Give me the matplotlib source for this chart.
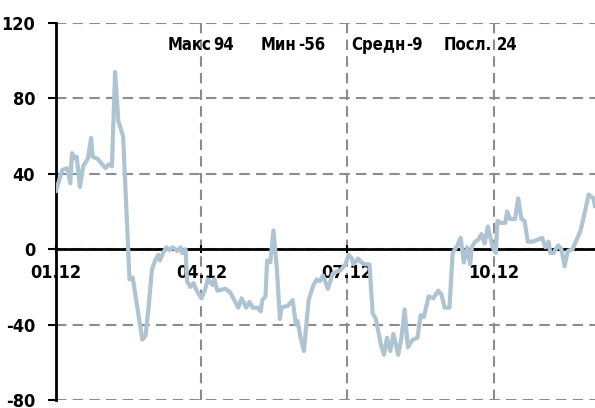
import pandas as pd
import matplotlib
matplotlib.use("Agg")
import matplotlib.pyplot as plt
import matplotlib.dates as mdates

# days since 01.01.2012 and index value
days = [0, 4, 7, 9, 10, 12, 13, 15, 17, 20, 22, 23, 26, 31, 33, 35, 37, 39, 42,
        46, 48, 54, 56, 58, 60, 62, 64, 65, 67, 69, 71, 73, 76, 78, 79, 81, 82,
        84, 86, 88, 91, 93, 95, 98, 99, 101, 106, 109, 114, 116, 119, 121, 123,
        126, 128, 129, 131, 132, 134, 136, 138, 140, 141, 145, 148, 150, 151,
        153, 155, 158, 161, 163, 165, 167, 170, 173, 178, 181, 183, 185, 186,
        189, 191, 193, 196, 198, 200, 203, 205, 207, 209, 211, 214, 216, 218,
        220, 223, 226, 228, 230, 233, 236, 239, 241, 243, 246, 248, 251, 253,
        255, 257, 259, 260, 262, 264, 266, 268, 270, 273, 275, 276, 278, 281,
        282, 284, 287, 289, 291, 293, 295, 298, 301, 304, 306, 308, 309, 311,
        314, 316, 318, 320, 323, 326, 328, 331, 333, 336, 337]
values = [31, 42, 43, 35, 51, 48, 49, 33, 44, 48, 59, 49, 48, 43, 45, 44, 94, 68, 60,
          -16, -15, -48, -46, -30, -11, -6, -3, -6, -2, 1, -0.5, 1, -1, 1, -2, 0, -17,
          -20, -18, -22, -26, -22, -16, -19, -16, -22, -21, -23, -31, -26, -31, -28, -31,
          -31, -33, -27, -25, -6, -7, 10, -9, -37, -31, -30, -27, -40, -38,
          -47, -54, -27, -19, -16, -17, -14, -21, -13, -11, -8, -3, -5, -8,
          -5, -7, -8, -8, -34, -37, -50, -56, -47, -54, -45, -56, -47, -32,
          -52, -48, -47, -35, -36, -25, -26, -22, -24, -31, -31, -2, 2, 6,
          -7, 1, -8, 1, 4, 5, 8, 3, 12, 1, -2, 15, 14, 14,
          20, 16, 16, 27, 16, 15, 4, 4, 5, 6, 1, 4, -2, -2,
          2, 0, -9, -1, 0, 6, 10, 21, 29, 27, 23]
tick_dates = ["2012-01-01", "2012-04-01", "2012-07-01", "2012-10-01"]
stat_names = ["Макс", "Мин", "Средн", "Посл."]
stat_values = ["94", "-56", "-9", "24"]

start = pd.Timestamp("2012-01-01")
dates = start + pd.to_timedelta(days, unit="D")

plt.rcParams["font.family"] = ["DejaVu Sans"]
plt.rcParams["font.stretch"] = "condensed"
plt.rcParams["font.weight"] = "bold"
plt.rcParams["axes.unicode_minus"] = False

fig = plt.figure(figsize=(5.95, 4.08), dpi=100)
ax = fig.add_axes([0.094, 0.0196, 0.906, 0.924])

ax.plot(dates, values, color="#aec4d2", linewidth=3, zorder=3)

ax.set_ylim(-80, 120)
ax.set_yticks([-80, -40, 0, 40, 80, 120])
ax.set_xlim(start, dates[-1])
ax.set_xticks(pd.to_datetime(tick_dates))
ax.xaxis.set_major_formatter(mdates.DateFormatter("%m.%y"))

ax.grid(True, color="#8c8c8c", linestyle=(0, (5, 3)), linewidth=1.5)
ax.spines["top"].set_visible(False)
ax.spines["right"].set_visible(False)
ax.spines["bottom"].set_position(("data", 0))
ax.spines["bottom"].set_linewidth(2)
ax.spines["left"].set_linewidth(2)
ax.tick_params(axis="y", length=6, width=1.5, pad=9, labelsize=13)
ax.tick_params(axis="x", length=6, width=1.5, direction="inout", pad=8, labelsize=13)

# stats header: name / value pairs, centred where the reference puts them
name_x = [190, 278, 378, 468]
value_x = [224, 312, 415, 507]
for name, val, nx, vx in zip(stat_names, stat_values, name_x, value_x):
    fig.text(nx / 595, 0.89, name, ha="center", va="center", fontsize=12)
    fig.text(vx / 595, 0.89, val, ha="center", va="center", fontsize=12)

fig.savefig("out.png", dpi=100)
